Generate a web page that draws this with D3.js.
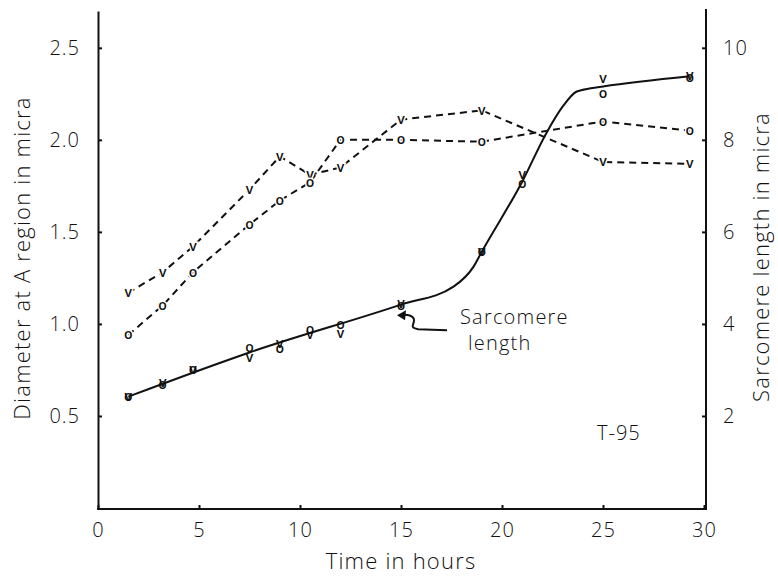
<!DOCTYPE html>
<html>
<head>
<meta charset="utf-8">
<script src="https://cdn.jsdelivr.net/npm/d3@7"></script>
<style>
  body { margin: 0; background: #fff; }
  text { font-family: "Open Sans", "DejaVu Sans", sans-serif; font-weight: 300; fill: #111; }
  .axis path, .axis line { stroke: #111; stroke-width: 2; }
  .axis text { font-size: 20px; letter-spacing: 1px; }
  .aText { font-size: 22px; letter-spacing: 1.2px; }
  .mark { font-size: 14px; font-weight: 600; text-anchor: middle; dominant-baseline: central; }
  .halo { stroke: #fff; stroke-width: 3px; paint-order: stroke; }
</style>
</head>
<body>
<div id="chart"></div>
<script>
// ------------ DATA ------------
// diameter at A region (left axis, micra), two fibres "v" and "o"
var diamTimes = [1.5, 3.2, 4.7, 7.5, 9, 10.5, 12, 15, 19, 25, 29.3];
var diamV = [1.17, 1.28, 1.42, 1.73, 1.91, 1.81, 1.85, 2.11, 2.16, 1.88, 1.87];
var diamO = [0.94, 1.10, 1.28, 1.54, 1.67, 1.77, 2.00, 2.00, 1.99, 2.10, 2.05];

// sarcomere length (right axis, micra)
var sarcoTimes = [1.5, 3.2, 4.7, 7.5, 9, 10.5, 12, 15, 19, 21, 25, 29.3];
var sarcoV = [2.42, 2.72, 3.0, 3.28, 3.58, 3.78, 3.80, 4.45, 5.57, 7.24, 9.34, 9.40];
var sarcoO = [2.42, 2.68, 3.0, 3.48, 3.47, 3.87, 3.98, 4.40, 5.57, 7.06, 9.01, 9.36];

// hand drawn fit through the sarcomere points
var fitTimes = [1.5, 7.5, 15, 17.6, 18.6, 19, 21, 22.2, 23, 23.7, 24.4, 25, 29.3];
var fitLength = [2.42, 3.38, 4.42, 4.81, 5.25, 5.57, 7.09, 8.15, 8.72, 9.05, 9.12, 9.16, 9.38];

// tick labels
var xTicks = [0, 5, 10, 15, 20, 25, 30];
var leftTicks = [0.5, 1.0, 1.5, 2.0, 2.5];
var rightTicks = [2, 4, 6, 8, 10];

// ------------ CHART FORMATTING ------------
var svgWidth = 778;
var svgHeight = 577;

var svg = d3.select("#chart")
  .append("svg")
  .attr("width", svgWidth)
  .attr("height", svgHeight);

// scales (left axis 0..2.7 and right axis 0..10.8 share the same pixel range)
var x = d3.scaleLinear().domain([0, 30]).range([98, 704]);
var yL = d3.scaleLinear().domain([0, 2.7]).range([508, 11]);
var yR = d3.scaleLinear().domain([0, 10.8]).range([508, 11]);

// ------------ AXES ------------
svg.append("g")
  .attr("class", "axis")
  .attr("transform", "translate(0,509)")
  .call(d3.axisBottom(x).tickValues(xTicks).tickSizeInner(-4).tickSizeOuter(0).tickPadding(14))
  .call(g => g.select(".domain").attr("d", "M97,0H707"));

svg.append("g")
  .attr("class", "axis")
  .attr("transform", "translate(98,0)")
  .call(d3.axisLeft(yL).tickValues(leftTicks).tickFormat(d3.format(".1f")).tickSizeInner(-4).tickSizeOuter(0).tickPadding(18));

svg.append("g")
  .attr("class", "axis")
  .attr("transform", "translate(706,0)")
  .call(d3.axisRight(yR).tickValues(rightTicks).tickSizeInner(-4).tickSizeOuter(0).tickPadding(17))
  .call(g => g.select(".domain").attr("d", "M0,9V509"));

// ------------ LINES ------------
var diamLine = d3.line().x((d, i) => x(diamTimes[i])).y(d => yL(d));
[diamV, diamO].forEach(function(series) {
  svg.append("path")
    .datum(series)
    .attr("d", diamLine)
    .attr("fill", "none")
    .attr("stroke", "#111")
    .attr("stroke-width", 2)
    .attr("stroke-dasharray", "7,5");
});

var fitLine = d3.line()
  .x((d, i) => x(fitTimes[i]))
  .y(d => yR(d))
  .curve(d3.curveMonotoneX);
svg.append("path")
  .datum(fitLength)
  .attr("d", fitLine)
  .attr("fill", "none")
  .attr("stroke", "#111")
  .attr("stroke-width", 2);

// ------------ MARKERS ------------
// the figure plots its points as the letters "v" and "o"
function addMarks(values, times, scale, glyph, cls) {
  svg.append("g")
    .selectAll("text")
    .data(values)
    .enter()
    .append("text")
      .attr("class", cls)
      .attr("x", (d, i) => x(times[i]))
      .attr("y", d => scale(d) - 1)
      .text(glyph);
}
addMarks(diamV, diamTimes, yL, "v", "mark halo");
addMarks(diamO, diamTimes, yL, "o", "mark halo");
addMarks(sarcoO, sarcoTimes, yR, "o", "mark");
addMarks(sarcoV, sarcoTimes, yR, "v", "mark");

// ------------ LABELS ------------
svg.append("text")
  .attr("class", "aText")
  .attr("text-anchor", "middle")
  .attr("x", x(15))
  .attr("y", 569)
  .text("Time in hours");

svg.append("text")
  .attr("class", "aText")
  .attr("text-anchor", "middle")
  .attr("transform", "translate(30,258) rotate(-90)")
  .text("Diameter at A region in micra");

svg.append("text")
  .attr("class", "aText")
  .attr("text-anchor", "middle")
  .attr("transform", "translate(769,257) rotate(-90)")
  .text("Sarcomere length in micra");

svg.append("text")
  .attr("font-size", "20px")
  .attr("letter-spacing", "1px")
  .attr("x", 597)
  .attr("y", 440)
  .text("T-95");

// annotation with squiggly arrow pointing at the 15 h point
var ax = x(sarcoTimes[7]) - 3;
var ay = yR(sarcoV[7]) + 12;
svg.append("text")
  .attr("font-size", "20px")
  .attr("letter-spacing", "1.2px")
  .attr("x", ax + 62)
  .attr("y", ay + 9)
  .text("Sarcomere");
svg.append("text")
  .attr("font-size", "20px")
  .attr("letter-spacing", "1.2px")
  .attr("x", ax + 70)
  .attr("y", ay + 35)
  .text("length");

svg.append("path")
  .attr("transform", `translate(${ax},${ay})`)
  .attr("d", "M2,0 C9,-1 16,0 16,5 C16,10 11,12 20,14 L49,15")
  .attr("fill", "none")
  .attr("stroke", "#111")
  .attr("stroke-width", 2);
svg.append("path")
  .attr("transform", `translate(${ax},${ay})`)
  .attr("d", "M-1,0 L8,-5 L7,5 Z")
  .attr("fill", "#111");
</script>
</body>
</html>
